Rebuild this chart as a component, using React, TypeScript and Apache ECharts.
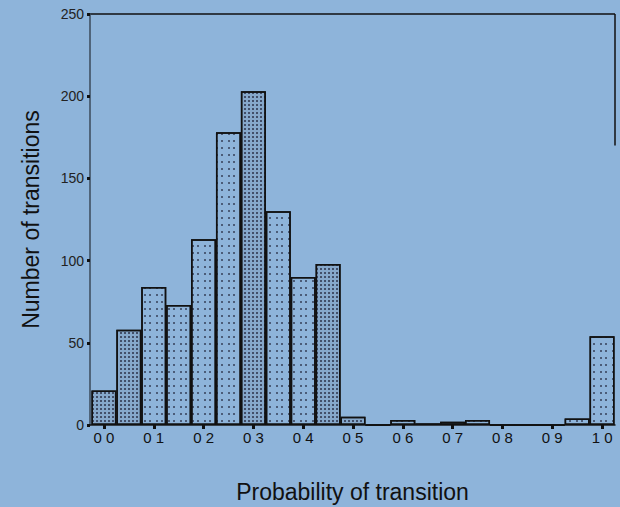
import React, { useEffect, useRef } from "react";
import * as echarts from "echarts";

const binCenters = [0.0, 0.05, 0.1, 0.15, 0.2, 0.25, 0.3, 0.35, 0.4, 0.45, 0.5, 0.55, 0.6, 0.65, 0.7, 0.75, 0.8, 0.85, 0.9, 0.95, 1.0];
const counts = [21, 58, 84, 73, 113, 178, 203, 130, 90, 98, 5, 0, 3, 1, 2, 3, 0, 0, 0, 4, 54];
const densePattern = [true, true, false, false, false, false, true, false, false, true, true, false, false, false, false, false, false, false, false, false, false];
const xTicks = [0, 0.1, 0.2, 0.3, 0.4, 0.5, 0.6, 0.7, 0.8, 0.9, 1.0];
const xTickLabels = ["0 0", "0 1", "0 2", "0 3", "0 4", "0 5", "0 6", "0 7", "0 8", "0 9", "1 0"];
const yTicks = [0, 50, 100, 150, 200, 250];

const BG = "#8eb4da";
const FONT = "Liberation Sans, Arial, sans-serif";

export default function App() {
  const ref = useRef<HTMLDivElement>(null);
  useEffect(() => {
    if (!ref.current) return;
    const chart = echarts.init(ref.current, null, { renderer: "svg" });
    const lightDecal = {
      symbol: "rect",
      symbolSize: 1,
      color: "rgba(20,20,40,0.55)",
      dashArrayX: [[1.2, 2.3, 1.2, 5]],
      dashArrayY: [1.2, 4.5],
    };
    const denseDecal = {
      symbol: "rect",
      symbolSize: 1,
      color: "rgba(20,20,40,0.6)",
      dashArrayX: [1.3, 2],
      dashArrayY: [1.3, 2],
    };
    const data = binCenters.map((x, i) => ({
      value: [x, counts[i]],
      itemStyle: {
        color: densePattern[i] ? "#86a8cb" : BG,
        decal: densePattern[i] ? denseDecal : lightDecal,
      },
    }));
    chart.setOption({
      animation: false,
      backgroundColor: BG,
      grid: { left: 90, right: 5, top: 14, bottom: 82, containLabel: false, outerBoundsMode: "none" },
      xAxis: {
        type: "value",
        min: -0.028,
        max: 1.026,
        splitLine: { show: false },
        axisLine: { onZero: false, lineStyle: { color: "#1a1a1a", width: 1.5 } },
        axisTick: {
          show: true,
          customValues: xTicks,
          length: 4,
          lineStyle: { color: "#111", width: 3 },
        },
        axisLabel: {
          customValues: xTicks,
          formatter: (v: number) => {
            const i = xTicks.findIndex((t) => Math.abs(t - v) < 1e-6);
            return i >= 0 ? xTickLabels[i] : "";
          },
          color: "#111",
          fontFamily: FONT,
          fontSize: 15,
          margin: 5,
        },
        name: "Probability of transition",
        nameLocation: "middle",
        nameGap: 55,
        nameTextStyle: { color: "#111", fontSize: 23, fontFamily: FONT },
      },
      yAxis: {
        type: "value",
        min: 0,
        max: 250,
        interval: 50,
        splitLine: { show: false },
        axisLine: { show: true, onZero: false, lineStyle: { color: "#3a4a5a", width: 1.5 } },
        axisTick: { show: true, length: 3, lineStyle: { color: "#111", width: 3 } },
        axisLabel: {
          color: "#222",
          fontFamily: FONT,
          fontSize: 14,
          margin: 6,
          formatter: (v: number) => (yTicks.includes(v) ? String(v) : ""),
        },
        name: "Number of transitions",
        nameLocation: "middle",
        nameGap: 48,
        nameTextStyle: { color: "#111", fontSize: 23, fontFamily: FONT },
      },
      series: [
        {
          type: "bar",
          data,
          barWidth: 25,
          itemStyle: { borderColor: "#111", borderWidth: 1.5 },
        },
      ],
    });
    const [x0, yTop] = chart.convertToPixel({ gridIndex: 0 }, [-0.028, 250]) as number[];
    const [x1] = chart.convertToPixel({ gridIndex: 0 }, [1.026, 250]) as number[];
    const [, yRightEnd] = chart.convertToPixel({ gridIndex: 0 }, [1.026, 170]) as number[];
    chart.setOption({
      graphic: [
        { type: "line", shape: { x1: x0, y1: yTop, x2: x1, y2: yTop }, style: { stroke: "#111", lineWidth: 1.5 } },
        { type: "line", shape: { x1: x1, y1: yTop, x2: x1, y2: yRightEnd }, style: { stroke: "#111", lineWidth: 1.5 } },
      ],
    });
    return () => chart.dispose();
  }, []);
  return <div ref={ref} style={{ width: 620, height: 507, position: "absolute", left: 0, top: 0 }} />;
}
